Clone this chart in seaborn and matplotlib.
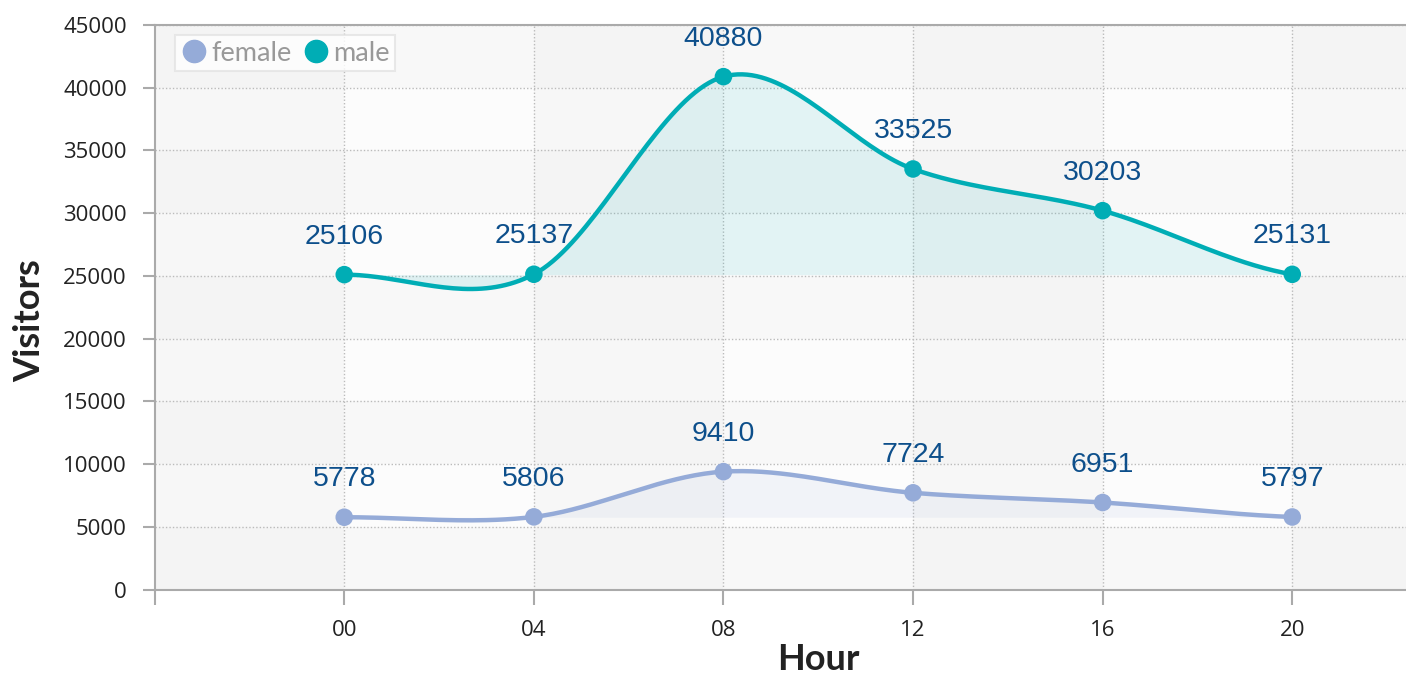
import numpy as np
import pandas as pd
import matplotlib
matplotlib.use("Agg")
import matplotlib.pyplot as plt
import seaborn as sns
from matplotlib.lines import Line2D

# data
hours = ["00", "04", "08", "12", "16", "20"]
female = [5778, 5806, 9410, 7724, 6951, 5797]
male = [25106, 25137, 40880, 33525, 30203, 25131]

female_color = "#95abd8"
male_color = "#00adb5"
label_color = "#0d4f8b"


def smooth(y, n=40):
    # catmull-rom curve through the points (only for drawing the line)
    y = np.asarray(y, dtype=float)
    p = np.concatenate([[y[0]], y, [y[-1]]])
    xs, ys = [], []
    for i in range(len(y) - 1):
        p0, p1, p2, p3 = p[i], p[i + 1], p[i + 2], p[i + 3]
        t = np.linspace(0, 1, n, endpoint=False)
        m1 = (p2 - p0) / 2
        m2 = (p3 - p1) / 2
        h00 = 2 * t**3 - 3 * t**2 + 1
        h10 = t**3 - 2 * t**2 + t
        h01 = -2 * t**3 + 3 * t**2
        h11 = t**3 - t**2
        xs.append(i + t)
        ys.append(h00 * p1 + h10 * m1 + h01 * p2 + h11 * m2)
    xs.append([len(y) - 1])
    ys.append([y[-1]])
    return np.concatenate(xs), np.concatenate(ys)


sns.set_theme(style="white")
plt.rcParams["font.family"] = ["Lato", "DejaVu Sans"]

fig = plt.figure(figsize=(14.06, 6.74), dpi=100)
ax = fig.add_axes([0.110, 0.125, 0.890, 0.838])
ax.set_facecolor("#fcfcfc")

# alternating light bands
for k in range(0, 9, 2):
    ax.axhspan(k * 5000, (k + 1) * 5000, color="#f0f0f0", alpha=0.3, lw=0, zorder=0)
for k in range(-1, 6, 2):
    ax.axvspan(k, k + 1, color="#f0f0f0", alpha=0.4, lw=0, zorder=0)

pos = np.arange(len(hours))
rows = []
for name, vals in [("female", female), ("male", male)]:
    sx, sy = smooth(vals)
    for a, b in zip(sx, sy):
        rows.append({"x": a, "y": b, "sex": name})
curves = pd.DataFrame(rows)
points = pd.DataFrame({
    "x": np.concatenate([pos, pos]),
    "y": female + male,
    "sex": ["female"] * len(hours) + ["male"] * len(hours),
})
pal = {"female": female_color, "male": male_color}

for name, vals in [("female", female), ("male", male)]:
    c = curves[curves["sex"] == name]
    ax.fill_between(c["x"], c["y"], min(vals), color=pal[name], alpha=0.1, lw=0, zorder=1)

sns.lineplot(data=curves, x="x", y="y", hue="sex", palette=pal, lw=3.2,
             legend=False, ax=ax, zorder=3, estimator=None, sort=False)
sns.scatterplot(data=points, x="x", y="y", hue="sex", palette=pal, s=160,
                edgecolor="none", legend=False, ax=ax, zorder=4)

for vals in [female, male]:
    for i, v in enumerate(vals):
        ax.annotate(str(v), (i, v), xytext=(0, 18), textcoords="offset points",
                    ha="center", va="bottom", fontsize=20.5, color=label_color,
                    family=["Liberation Sans", "DejaVu Sans"], zorder=5)

ax.set_xlim(-1, 5.6)
ax.set_ylim(0, 45000)
ax.set_xticks(list(pos))
ax.set_xticklabels(hours)
ax.set_xticks([-1], minor=True)
ax.set_yticks(np.arange(0, 45001, 5000))
ax.grid(True, which="major", color="#bbbbbb", linestyle=(0, (1, 1.5)), lw=1)
ax.set_axisbelow(True)

for s in ["left", "bottom", "top"]:
    ax.spines[s].set_color("#aaaaaa")
    ax.spines[s].set_linewidth(1.5)
ax.spines["right"].set_visible(False)

ax.tick_params(axis="y", which="both", direction="out", length=9, width=1.5,
               color="#aaaaaa", labelsize=16, labelcolor="#222222", pad=11, left=True)
ax.tick_params(axis="x", which="both", direction="out", length=11, width=1.5,
               color="#aaaaaa", labelsize=16, labelcolor="#222222", pad=11, bottom=True)
for lab in ax.get_xticklabels() + ax.get_yticklabels():
    lab.set_family(["Open Sans", "DejaVu Sans"])

ax.set_xlabel("Hour", fontsize=26, fontweight="bold", color="#222222")
ax.set_ylabel("Visitors", fontsize=26, fontweight="bold", color="#222222")
ax.xaxis.set_label_coords(0.530, -0.094)
ax.yaxis.set_label_coords(-0.087, 0.476)

handles = [
    Line2D([], [], marker="o", ls="none", markersize=16, color=female_color, label="female"),
    Line2D([], [], marker="o", ls="none", markersize=16, color=male_color, label="male"),
]
leg = ax.legend(handles=handles, loc="upper left", bbox_to_anchor=(0.016, 0.982), ncol=2,
                frameon=True, fancybox=False, fontsize=19.5, handletextpad=0.15,
                columnspacing=0.4, borderpad=0.2, handlelength=1.0, borderaxespad=0)
leg.get_frame().set_edgecolor("#e3e3e3")
leg.get_frame().set_linewidth(1.5)
leg.get_frame().set_facecolor("white")
for t in leg.get_texts():
    t.set_color("#999999")

fig.savefig("out.png", dpi=100)
